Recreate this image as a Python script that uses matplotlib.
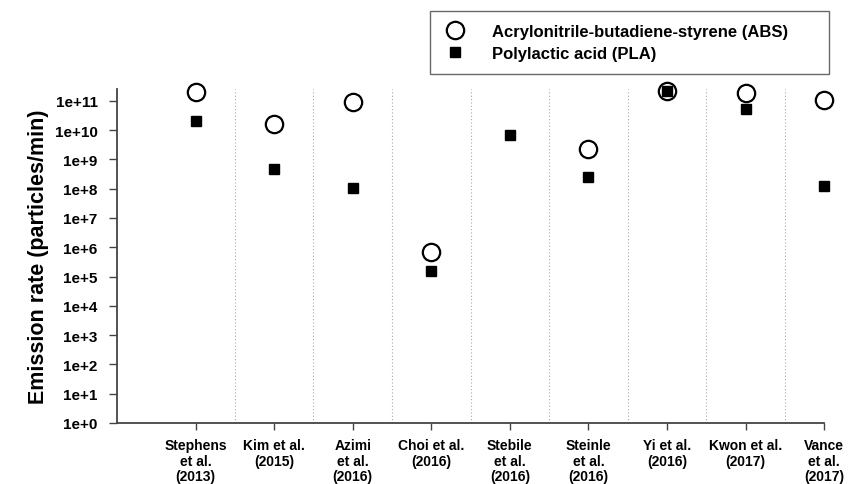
import numpy as np
import matplotlib
matplotlib.use("Agg")
import matplotlib.pyplot as plt

plt.rcParams['font.family'] = ['Liberation Sans', 'DejaVu Sans']
plt.rcParams['font.weight'] = 'bold'

studies = ["Stephens\net al.\n(2013)", "Kim et al.\n(2015)", "Azimi\net al.\n(2016)",
           "Choi et al.\n(2016)", "Stebile\net al.\n(2016)", "Steinle\net al.\n(2016)",
           "Yi et al.\n(2016)", "Kwon et al.\n(2017)", "Vance\net al.\n(2017)"]
abs_rate = [2.0e11, 1.6e10, 9.5e10, 6.8e5, np.nan, 2.2e9, 2.2e11, 1.8e11, 1.1e11]
pla_rate = [2.1e10, 4.8e8, 1.07e8, 1.6e5, 6.8e9, 2.5e8, 2.2e11, 5.5e10, 1.2e8]
ytick_vals = [10.0**k for k in range(0, 12)]
ytick_labels = ["1e+%d" % k for k in range(0, 12)]

fig = plt.figure(figsize=(8.54, 4.85), dpi=100)
ax = fig.add_axes([0.137, 0.126, 0.828, 0.688])

x = np.arange(len(studies))

# dotted separators between studies
for sep in x[:-1] + 0.5:
    ax.axvline(sep, color='#aaaaaa', linestyle=(0, (1, 2)), linewidth=0.8, zorder=1)

ax.plot(x, abs_rate, linestyle='none', marker='o', markersize=12.5, markerfacecolor='none',
        markeredgecolor='black', markeredgewidth=1.6, label='Acrylonitrile-butadiene-styrene (ABS)',
        zorder=3, clip_on=False)
ax.plot(x, pla_rate, linestyle='none', marker='s', markersize=7, color='black',
        label='Polylactic acid (PLA)', zorder=4, clip_on=False)

ax.set_yscale('log')
ax.set_ylim(1, 10**11.4)
ax.set_xlim(-1, 8)
ax.set_yticks(ytick_vals)
ax.set_yticklabels(ytick_labels)
ax.minorticks_off()
ax.set_xticks(x)
ax.set_xticklabels(studies, fontsize=10, fontweight='bold', linespacing=1.15)
ax.tick_params(axis='y', labelsize=11, length=6, width=1, pad=8, color='#444444')
ax.tick_params(axis='x', length=5, width=1, pad=6, color='#444444')

for side in ['top', 'right']:
    ax.spines[side].set_visible(False)
for side in ['left', 'bottom']:
    ax.spines[side].set_color('#444444')
    ax.spines[side].set_linewidth(1.3)

ax.set_ylabel('Emission rate (particles/min)', fontsize=15.5, fontweight='bold', labelpad=4)

leg = ax.legend(loc='upper left', bbox_to_anchor=(0.5035, 0.847, 0.4675, 0.128),
                bbox_transform=fig.transFigure, mode='expand',
                frameon=True, fancybox=False, fontsize=12, borderpad=0.75, handletextpad=1.5,
                labelspacing=0.45, borderaxespad=0, handlelength=1.5)
leg.get_frame().set_edgecolor('#444444')
leg.get_frame().set_linewidth(1.0)
for t in leg.get_texts():
    t.set_fontweight('bold')

fig.savefig('out.png', dpi=100)
